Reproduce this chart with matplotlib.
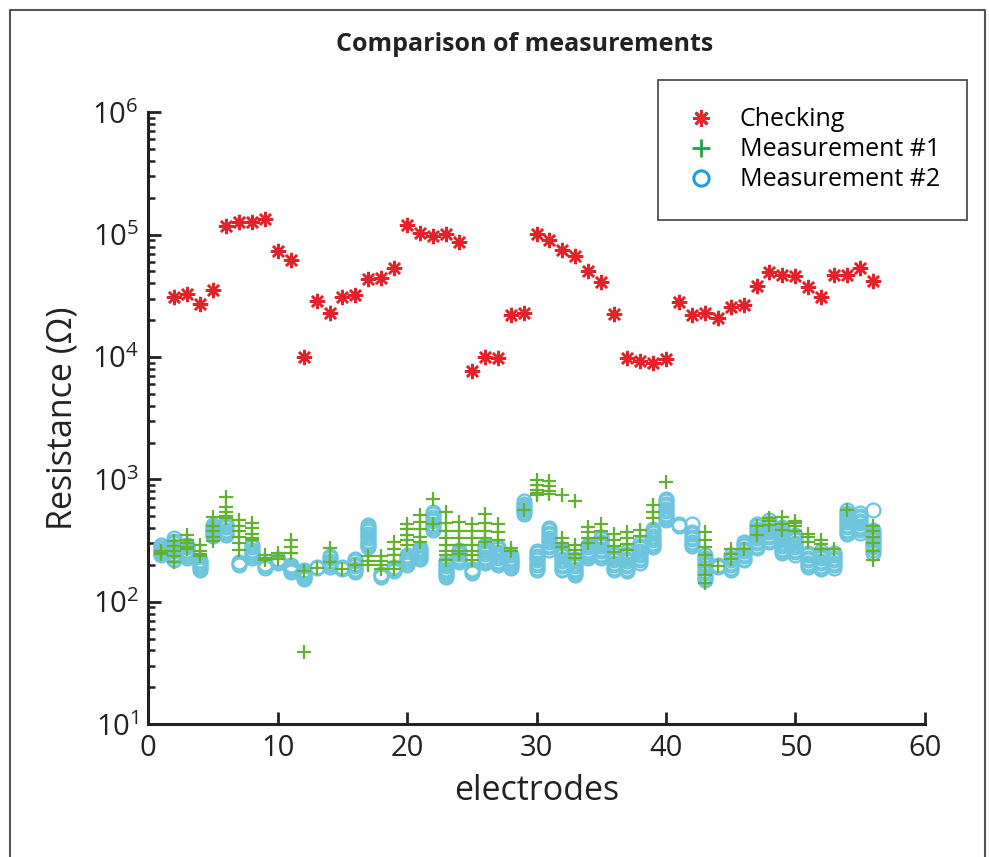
import numpy as np
import matplotlib.pyplot as plt
from matplotlib.lines import Line2D

plt.rcParams['font.family'] = ['Open Sans', 'DejaVu Sans']
plt.rcParams['mathtext.fontset'] = 'custom'
plt.rcParams['mathtext.rm'] = 'Open Sans'

# Checking (one value per electrode, electrodes 2..56)
checking_electrodes = list(range(2, 57))
checking = [31000, 33000, 27000, 35000, 117000, 127000, 127000, 134000, 73600, 62500,
            10000, 28700, 22900, 31000, 32000, 43300, 44000, 53800, 119000, 104000,
            97000, 100700, 87000, 7650, 10000, 9840, 22000, 22900, 100700, 90000,
            75600, 66600, 50600, 41100, 22600, 9840, 9300, 8950, 9600, 28200,
            22000, 22900, 21000, 25700, 26500, 37800, 49500, 46600, 45700, 37400,
            30900, 47200, 47200, 53400, 41900]

# Measurement #1 (several readings per electrode, electrodes 1..56)
meas1 = [
    [260, 250, 245],
    [315, 285, 260, 235, 210],
    [350, 320, 300, 280, 270],
    [290, 260, 245, 235],
    [490, 420, 380, 340, 315],
    [720, 590, 540, 500, 480],
    [470, 420, 380, 340, 300, 265],
    [440, 400, 360, 330, 320],
    [240, 230, 220],
    [250, 235, 225],
    [320, 280, 250],
    [39, 180],
    [190],
    [275, 210],
    [185],
    [200],
    [235, 215, 200],
    [235, 215, 200, 185],
    [310, 270, 240, 210, 187],
    [435, 390, 350, 320, 290],
    [510, 450, 390, 340, 310],
    [690, 430],
    [540, 440, 380, 330, 290, 260, 240, 220],
    [450, 380, 330, 290, 260, 245],
    [430, 380, 330, 290, 260, 240, 220],
    [520, 440, 380, 330, 310],
    [430, 370, 320],
    [275, 260],
    [560],
    [980, 900, 820, 770, 745],
    [970, 880, 810, 760],
    [740, 330, 300, 280],
    [665, 290, 265, 245, 230],
    [410, 370, 330, 300],
    [435, 380, 330],
    [360, 320, 285, 255],
    [375, 330, 295, 265],
    [385, 345],
    [615, 540, 485],
    [955],
    [],
    [],
    [375, 320, 280, 240, 200, 165, 142],
    [195],
    [270, 245, 225],
    [270],
    [420, 350],
    [485, 455, 425],
    [490, 430, 385],
    [460, 440, 420, 380],
    [360, 340, 310],
    [320, 295, 270],
    [270],
    [560],
    [],
    [420, 380, 340, 300, 260, 220],
]

# Measurement #2 (several readings per electrode, electrodes 1..56)
meas2 = [
    [290, 280, 270, 262, 254, 246, 240],
    [330, 315, 300, 285, 270, 258, 246, 235, 225, 220],
    [290, 278, 266, 255, 245, 236, 228],
    [220, 211, 203, 195, 188, 183],
    [425, 408, 392, 376, 362, 350, 345],
    [440, 422, 405, 388, 372, 360, 352],
    [212, 205, 200],
    [290, 278, 266, 255, 245, 235, 226],
    [202, 196, 190],
    [222, 215, 208],
    [200, 192, 185, 178, 174],
    [182, 175, 168, 162, 157, 154],
    [194, 188],
    [235, 226, 217, 208, 200, 193],
    [192, 185],
    [225, 215, 205, 196, 187, 179, 174],
    [425, 408, 392, 376, 360, 345, 330, 316, 303, 290, 280],
    [170, 164, 160],
    [192, 185, 179],
    [240, 231, 222, 214, 206, 200],
    [275, 264, 254, 244, 235, 227, 222],
    [540, 518, 496, 475, 455, 436, 418, 400, 386],
    [215, 205, 196, 187, 179, 171, 164, 158],
    [265, 254, 244, 234, 225, 217, 210],
    [184, 178, 173],
    [290, 278, 266, 255, 244, 234, 224, 214, 206],
    [280, 268, 257, 246, 236, 226, 216, 207, 199],
    [240, 230, 220, 211, 203, 196, 190],
    [660, 635, 610, 586, 562, 540, 518],
    [260, 249, 238, 228, 218, 208, 199, 190, 182],
    [400, 383, 366, 350, 335, 320, 306, 292, 279, 266],
    [270, 258, 246, 235, 224, 214, 204, 195, 187, 182],
    [225, 215, 205, 196, 187, 179, 171, 164],
    [290, 278, 266, 255, 245, 236, 228],
    [340, 325, 310, 296, 283, 270, 258, 247, 237, 230],
    [250, 239, 228, 218, 208, 199, 190, 182],
    [260, 248, 236, 225, 214, 204, 195, 187, 180],
    [300, 287, 274, 262, 250, 239, 228, 218, 209],
    [395, 378, 362, 346, 331, 317, 303, 290, 280],
    [690, 660, 630, 602, 575, 550, 525, 500, 480, 470],
    [430, 420],
    [430, 370, 355, 340, 325, 310, 296, 283],
    [240, 229, 218, 208, 198, 189, 180, 171, 163, 156, 150],
    [198, 192],
    [240, 229, 218, 208, 198, 189, 181],
    [310, 296, 283, 270, 258, 246, 235, 225, 218],
    [435, 415, 396, 378, 361, 345, 330, 315, 301, 288, 276],
    [465, 444, 424, 405, 387, 370, 353, 337, 322, 308],
    [410, 391, 373, 356, 340, 325, 310, 296, 283, 270, 258, 250],
    [350, 334, 319, 305, 291, 278, 265, 253, 242],
    [250, 239, 228, 218, 208, 199, 191],
    [260, 248, 237, 226, 216, 206, 197, 188, 184],
    [250, 239, 228, 218, 208, 199, 190],
    [560, 535, 511, 488, 466, 445, 425, 406, 388, 371, 356],
    [530, 506, 483, 461, 440, 420, 401, 383, 367],
    [565, 385, 368, 351, 335, 320, 305, 291, 278, 265, 252],
]

red = '#E3222A'
green = '#63B22F'
cyan = '#6CC4DD'

fig = plt.figure(figsize=(9.89, 8.57), dpi=100)
ax = fig.add_axes([0.150, 0.155, 0.785, 0.714])

x1 = [e + 1 for e, vals in enumerate(meas1) for _ in vals]
y1 = [v for vals in meas1 for v in vals]
x2 = [e + 1 for e, vals in enumerate(meas2) for _ in vals]
y2 = [v for vals in meas2 for v in vals]

ax.plot(checking_electrodes, checking, linestyle='none', marker=(8, 2, 0),
        markersize=11, markeredgewidth=1.8, color=red)
ax.plot(x2, y2, linestyle='none', marker='o', markersize=10,
        markerfacecolor='none', markeredgewidth=1.6, markeredgecolor=cyan)
ax.plot(x1, y1, linestyle='none', marker='+', markersize=10,
        markeredgewidth=1.6, color=green)

ax.set_yscale('log')
ax.set_xlim(0, 60)
ax.set_ylim(10, 1e6)
ax.set_xticks([0, 10, 20, 30, 40, 50, 60])
ax.set_yticks([1e1, 1e2, 1e3, 1e4, 1e5, 1e6])

for side in ['top', 'right']:
    ax.spines[side].set_visible(False)
for side in ['left', 'bottom']:
    ax.spines[side].set_linewidth(2.2)
    ax.spines[side].set_color('#222222')

ax.tick_params(which='major', direction='in', length=9, width=2,
               labelsize=21, colors='#222222', pad=7)
ax.tick_params(which='minor', direction='in', length=5, width=1.8, colors='#222222')
ax.tick_params(axis='x', which='minor', bottom=False)

ax.set_xlabel('electrodes', fontsize=24.5, color='#222222', labelpad=8)
ax.set_ylabel('Resistance (\u03a9)', fontsize=24.5, color='#222222', labelpad=9)

fig.text(0.530, 0.9475, 'Comparison of measurements', ha='center', va='center',
         fontsize=18, fontweight='bold', color='#222222')

handles = [
    Line2D([], [], linestyle='none', marker=(8, 2, 0), markersize=12,
           markeredgewidth=2, color='#E8262B'),
    Line2D([], [], linestyle='none', marker='+', markersize=13,
           markeredgewidth=2, color='#22A04B'),
    Line2D([], [], linestyle='none', marker='o', markersize=11,
           markerfacecolor='none', markeredgewidth=2.2, markeredgecolor='#1E9FD7'),
]
leg = fig.legend(handles, ['Checking', 'Measurement #1', 'Measurement #2'],
                 loc='upper left', bbox_to_anchor=(658 / 989, 1 - 80 / 857),
                 borderaxespad=0, fontsize=18, frameon=True, fancybox=False,
                 borderpad=1.1, labelspacing=0.2, handletextpad=0.96,
                 handlelength=1.2)
leg.get_frame().set_edgecolor('#222222')
leg.get_frame().set_linewidth(1.3)

# outer frame
fx = [10 / 989, 10 / 989, 985 / 989, 985 / 989]
fy = [0, 1 - 10 / 857, 1 - 10 / 857, 0]
fig.add_artist(Line2D(fx, fy, transform=fig.transFigure, color='#555555', linewidth=1.5))

plt.savefig('out.png', dpi=100)
